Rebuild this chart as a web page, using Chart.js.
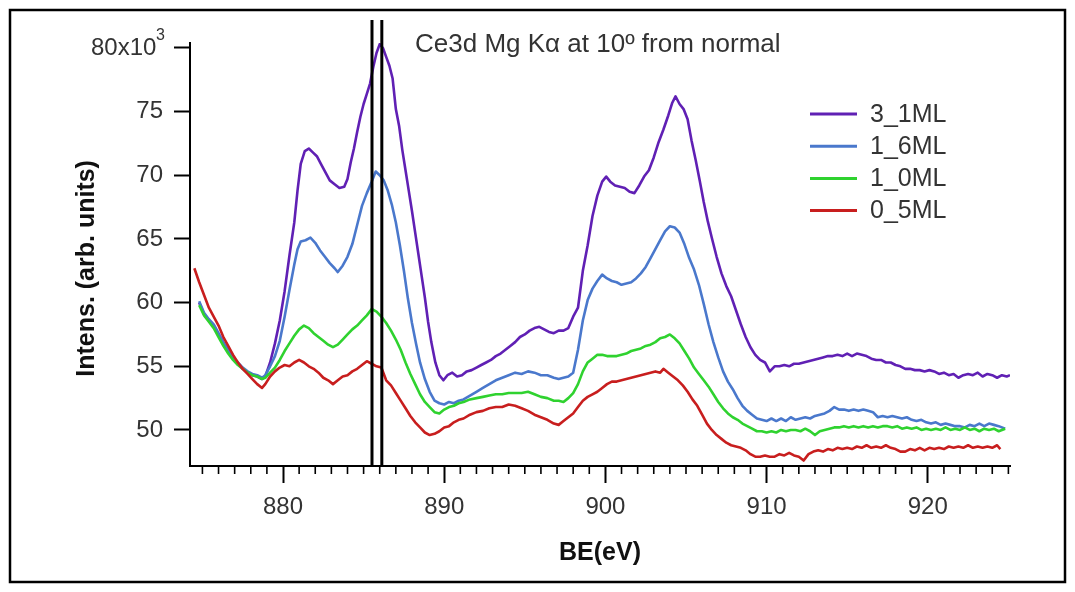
<!DOCTYPE html>
<html>
<head>
<meta charset="utf-8">
<title>Ce3d Mg Kα at 10º from normal</title>
<script src="https://cdn.jsdelivr.net/npm/chart.js@4.4.1/dist/chart.umd.min.js"></script>
<style>
  html, body { margin: 0; padding: 0; background: #fff; }
  canvas { display: block; }
</style>
</head>
<body>
<canvas id="spectrum" width="1075" height="592"></canvas>
<script>
const FONT = '"Liberation Sans", Arial, Helvetica, sans-serif';

// Series names as shown in the legend, top to bottom
const seriesNames = ['3_1ML', '1_6ML', '1_0ML', '0_5ML'];
const seriesColors = ['#6020b4', '#4a78cc', '#2fd22f', '#c81e1e'];

// Ce3d spectra: [binding energy (eV), intensity (x10^3 counts)]
const curve_3_1ML = [
  [874.8,60.0],[875.1,59.1],[875.4,58.6],[875.7,58.2],[876.0,57.5],[876.3,56.8],[876.6,56.2],[876.9,55.6],
  [877.2,55.2],[877.5,54.8],[877.8,54.5],[878.1,54.3],[878.4,54.2],[878.7,54.0],[878.9,54.2],[879.2,55.3],
  [879.5,56.8],[879.8,58.6],[880.1,60.9],[880.4,63.7],[880.7,66.3],[880.9,68.8],[881.1,70.9],[881.35,71.9],
  [881.6,72.1],[881.85,71.8],[882.1,71.5],[882.35,70.9],[882.6,70.3],[882.9,69.6],[883.2,69.3],[883.5,69.0],
  [883.8,69.1],[884.0,69.7],[884.2,71.0],[884.4,72.1],[884.6,73.4],[884.8,74.6],[885.0,75.6],[885.2,76.4],
  [885.4,77.2],[885.6,78.5],[885.8,79.6],[886.0,80.3],[886.2,80.0],[886.4,79.3],[886.6,78.6],[886.8,77.6],
  [887.0,75.2],[887.2,73.9],[887.4,72.0],[887.6,70.4],[887.8,68.8],[888.0,67.2],[888.2,65.5],[888.4,63.8],
  [888.6,62.1],[888.8,60.4],[889.0,58.5],[889.2,56.9],[889.45,55.3],[889.7,54.3],[889.95,53.9],[890.2,54.3],
  [890.5,54.5],[890.8,54.2],[891.1,54.3],[891.4,54.6],[891.7,54.7],[892.0,54.9],[892.3,55.1],[892.6,55.3],
  [892.9,55.5],[893.2,55.8],[893.5,56.0],[893.8,56.3],[894.1,56.6],[894.4,56.9],[894.7,57.3],[895.0,57.5],
  [895.3,57.8],[895.6,58.0],[895.9,58.1],[896.2,57.9],[896.5,57.7],[896.8,57.6],[897.1,57.8],[897.4,57.8],
  [897.7,58.0],[898.0,58.9],[898.3,59.6],[898.6,62.5],[898.9,64.5],[899.2,66.8],[899.5,68.4],[899.8,69.5],
  [900.05,69.9],[900.3,69.5],[900.6,69.2],[900.9,69.1],[901.2,69.0],[901.5,68.7],[901.8,68.6],[902.1,69.2],
  [902.4,69.9],[902.7,70.4],[903.0,71.4],[903.3,72.6],[903.6,73.6],[903.9,74.7],[904.15,75.7],[904.35,76.2],
  [904.6,75.6],[904.85,75.2],[905.1,74.4],[905.35,72.7],[905.6,71.2],[905.85,69.6],[906.1,67.9],[906.35,66.4],
  [906.6,65.1],[906.9,63.6],[907.2,62.3],[907.5,61.3],[907.8,60.5],[908.1,59.4],[908.4,58.3],[908.7,57.3],
  [909.0,56.5],[909.3,55.9],[909.6,55.5],[909.9,55.3],[910.2,54.6],[910.5,55.0],[910.8,55.0],[911.1,55.1],
  [911.4,55.0],[911.7,55.2],[912.0,55.2],[912.3,55.3],[912.6,55.4],[912.9,55.5],[913.2,55.6],[913.5,55.7],
  [913.8,55.8],[914.1,55.8],[914.4,55.9],[914.7,55.8],[915.0,56.0],[915.3,55.8],[915.6,56.0],[915.9,55.9],
  [916.2,55.8],[916.5,55.6],[916.8,55.5],[917.1,55.5],[917.4,55.3],[917.7,55.3],[918.0,55.1],[918.3,55.0],
  [918.6,54.8],[918.9,54.8],[919.2,54.7],[919.5,54.7],[919.8,54.6],[920.1,54.7],[920.4,54.6],[920.7,54.4],
  [921.0,54.5],[921.3,54.3],[921.6,54.4],[921.9,54.1],[922.2,54.3],[922.5,54.4],[922.8,54.3],[923.1,54.5],
  [923.4,54.2],[923.7,54.4],[924.0,54.3],[924.3,54.1],[924.6,54.3],[924.9,54.2],[925.1,54.3]
];

const curve_1_6ML = [
  [874.8,60.1],[875.1,59.2],[875.4,58.7],[875.7,58.3],[876.0,57.6],[876.3,56.9],[876.6,56.3],[876.9,55.7],
  [877.2,55.3],[877.5,54.9],[877.8,54.6],[878.1,54.4],[878.4,54.3],[878.7,54.1],[878.9,54.3],[879.2,55.0],
  [879.5,55.8],[879.8,57.0],[880.1,58.9],[880.4,61.0],[880.7,63.0],[880.9,64.2],[881.1,64.8],[881.4,64.9],
  [881.7,65.1],[882.0,64.7],[882.3,64.1],[882.6,63.6],[882.9,63.1],[883.2,62.7],[883.4,62.4],[883.7,62.9],
  [884.0,63.6],[884.3,64.6],[884.6,66.1],[884.9,67.6],[885.2,68.6],[885.5,69.5],[885.75,70.3],[886.0,70.0],
  [886.25,69.6],[886.5,68.8],[886.75,67.7],[887.0,66.3],[887.25,64.5],[887.5,62.5],[887.75,60.3],[888.0,58.4],
  [888.25,56.8],[888.5,55.3],[888.8,54.0],[889.1,53.0],[889.4,52.3],[889.7,52.1],[890.0,52.0],[890.3,52.2],
  [890.6,52.1],[890.9,52.3],[891.2,52.4],[891.6,52.7],[892.0,53.0],[892.4,53.3],[892.8,53.6],[893.2,53.9],
  [893.6,54.1],[894.0,54.3],[894.4,54.5],[894.8,54.4],[895.2,54.6],[895.6,54.5],[896.0,54.3],[896.4,54.3],
  [896.8,54.1],[897.1,54.0],[897.4,54.1],[897.7,54.2],[898.0,54.5],[898.3,56.3],[898.6,58.6],[898.9,60.2],
  [899.2,61.1],[899.5,61.7],[899.8,62.2],[900.1,61.9],[900.4,61.7],[900.7,61.6],[901.0,61.4],[901.3,61.5],
  [901.6,61.6],[901.9,61.9],[902.2,62.3],[902.5,62.8],[902.8,63.5],[903.1,64.2],[903.4,64.9],[903.7,65.6],
  [904.0,66.0],[904.3,65.9],[904.6,65.5],[904.9,64.6],[905.2,63.5],[905.5,62.6],[905.8,61.4],[906.1,59.9],
  [906.4,58.3],[906.7,56.9],[907.0,55.7],[907.3,54.6],[907.6,53.8],[907.9,53.2],[908.2,52.5],[908.5,51.9],
  [908.8,51.5],[909.1,51.2],[909.4,50.9],[909.7,50.8],[910.0,50.7],[910.3,50.9],[910.6,50.7],[910.9,50.9],
  [911.2,50.7],[911.5,51.0],[911.8,50.8],[912.1,50.9],[912.4,51.0],[912.7,50.9],[913.0,51.1],[913.3,51.2],
  [913.6,51.3],[913.9,51.5],[914.2,51.8],[914.5,51.6],[914.8,51.6],[915.1,51.5],[915.4,51.6],[915.7,51.5],
  [916.0,51.6],[916.3,51.5],[916.6,51.4],[916.9,51.0],[917.2,51.1],[917.5,51.0],[917.8,51.1],[918.1,51.0],
  [918.4,50.9],[918.7,51.0],[919.0,50.8],[919.3,50.7],[919.6,50.8],[919.9,50.6],[920.2,50.5],[920.5,50.6],
  [920.8,50.4],[921.1,50.5],[921.4,50.4],[921.7,50.3],[922.0,50.3],[922.3,50.2],[922.6,50.4],[922.9,50.3],
  [923.2,50.5],[923.5,50.3],[923.8,50.5],[924.1,50.4],[924.4,50.3],[924.8,50.1]
];

const curve_1_0ML = [
  [874.8,59.8],[875.1,59.0],[875.4,58.5],[875.7,58.0],[876.0,57.3],[876.3,56.6],[876.6,56.0],[876.9,55.5],
  [877.2,55.1],[877.5,54.8],[877.8,54.5],[878.1,54.3],[878.4,54.2],[878.7,54.0],[878.9,54.1],[879.2,54.5],
  [879.5,54.9],[879.8,55.5],[880.1,56.2],[880.4,56.8],[880.7,57.4],[881.0,57.9],[881.3,58.2],[881.6,58.0],
  [881.9,57.6],[882.2,57.3],[882.5,57.0],[882.8,56.7],[883.1,56.5],[883.4,56.7],[883.7,57.1],[884.0,57.5],
  [884.3,57.9],[884.6,58.2],[884.9,58.6],[885.2,59.0],[885.5,59.5],[885.8,59.3],[886.1,58.9],[886.4,58.4],
  [886.7,57.8],[887.0,57.1],[887.3,56.3],[887.6,55.3],[887.9,54.4],[888.2,53.6],[888.5,52.8],[888.8,52.2],
  [889.1,51.8],[889.4,51.4],[889.7,51.3],[890.0,51.6],[890.3,51.8],[890.6,51.9],[890.9,52.1],[891.2,52.2],
  [891.6,52.4],[892.0,52.5],[892.4,52.6],[892.8,52.7],[893.2,52.8],[893.6,52.8],[894.0,52.9],[894.4,52.9],
  [894.8,52.9],[895.2,53.0],[895.6,52.8],[896.0,52.6],[896.4,52.5],[896.8,52.3],[897.1,52.3],[897.4,52.2],
  [897.7,52.5],[898.0,52.9],[898.3,53.6],[898.6,54.6],[898.9,55.3],[899.2,55.6],[899.5,55.9],[899.8,55.9],
  [900.1,55.8],[900.4,55.8],[900.7,55.8],[901.0,55.9],[901.3,56.0],[901.6,56.2],[901.9,56.3],[902.2,56.4],
  [902.5,56.6],[902.8,56.7],[903.1,56.9],[903.4,57.2],[903.7,57.3],[904.0,57.5],[904.3,57.2],[904.6,56.8],
  [904.9,56.2],[905.2,55.6],[905.5,54.9],[905.8,54.4],[906.1,53.9],[906.4,53.4],[906.7,52.8],[907.0,52.2],
  [907.3,51.7],[907.6,51.3],[907.9,51.0],[908.2,50.8],[908.5,50.5],[908.8,50.3],[909.1,50.1],[909.4,49.9],
  [909.7,49.9],[910.0,49.8],[910.3,49.9],[910.6,49.8],[910.9,50.0],[911.2,49.9],[911.5,50.0],[911.8,50.0],
  [912.1,49.9],[912.4,50.1],[912.7,49.9],[913.0,49.6],[913.3,49.9],[913.6,50.0],[913.9,50.1],[914.2,50.2],
  [914.5,50.2],[914.8,50.3],[915.1,50.2],[915.4,50.3],[915.7,50.2],[916.0,50.3],[916.3,50.2],[916.6,50.3],
  [916.9,50.2],[917.2,50.3],[917.5,50.3],[917.8,50.2],[918.1,50.3],[918.4,50.1],[918.7,50.2],[919.0,50.1],
  [919.3,50.2],[919.6,50.0],[919.9,50.1],[920.2,50.0],[920.5,50.1],[920.8,50.0],[921.1,50.2],[921.4,50.0],
  [921.7,50.1],[922.0,50.0],[922.3,50.2],[922.6,50.0],[922.9,50.1],[923.2,49.9],[923.5,50.1],[923.8,50.0],
  [924.1,50.1],[924.4,49.9],[924.8,50.1]
];

const curve_0_5ML = [
  [874.5,62.7],[874.8,61.6],[875.1,60.6],[875.4,59.6],[875.7,58.9],[876.0,58.2],[876.3,57.3],[876.6,56.6],
  [876.9,55.9],[877.2,55.3],[877.5,54.8],[877.8,54.4],[878.1,54.0],[878.4,53.6],[878.7,53.3],[878.9,53.6],
  [879.2,54.2],[879.5,54.6],[879.8,54.9],[880.1,55.1],[880.4,55.0],[880.7,55.3],[881.0,55.5],[881.3,55.3],
  [881.6,55.0],[881.9,54.8],[882.2,54.5],[882.5,54.1],[882.8,53.9],[883.1,53.6],[883.4,53.9],[883.7,54.2],
  [884.0,54.3],[884.3,54.6],[884.6,54.8],[884.9,55.1],[885.2,55.4],[885.5,55.2],[885.8,55.0],[886.1,54.9],
  [886.4,53.9],[886.7,53.5],[887.0,52.9],[887.3,52.3],[887.6,51.7],[887.9,51.1],[888.2,50.6],[888.5,50.2],
  [888.8,49.8],[889.1,49.6],[889.4,49.7],[889.7,49.9],[890.0,50.2],[890.3,50.3],[890.6,50.6],[890.9,50.8],
  [891.2,50.9],[891.6,51.2],[892.0,51.4],[892.4,51.5],[892.8,51.7],[893.2,51.8],[893.6,51.8],[894.0,52.0],
  [894.4,51.9],[894.8,51.7],[895.2,51.5],[895.6,51.2],[896.0,51.0],[896.4,50.8],[896.8,50.5],[897.1,50.4],
  [897.4,50.7],[897.7,51.0],[898.0,51.3],[898.3,51.8],[898.6,52.3],[898.9,52.6],[899.2,52.8],[899.5,53.0],
  [899.8,53.3],[900.1,53.6],[900.4,53.8],[900.7,53.8],[901.0,53.9],[901.3,54.0],[901.6,54.1],[901.9,54.2],
  [902.2,54.3],[902.5,54.4],[902.8,54.5],[903.1,54.6],[903.4,54.5],[903.6,54.8],[903.9,54.5],[904.2,54.2],
  [904.5,53.9],[904.8,53.5],[905.1,53.0],[905.4,52.4],[905.7,51.9],[906.0,51.2],[906.3,50.5],[906.6,50.0],
  [906.9,49.6],[907.2,49.3],[907.5,49.0],[907.8,48.8],[908.1,48.7],[908.4,48.6],[908.7,48.4],[909.0,48.1],
  [909.3,47.9],[909.6,47.9],[909.9,48.0],[910.2,47.9],[910.5,47.9],[910.8,48.1],[911.1,48.0],[911.4,48.2],
  [911.7,48.0],[912.0,47.9],[912.3,47.6],[912.6,48.1],[912.9,48.3],[913.2,48.4],[913.5,48.3],[913.8,48.5],
  [914.1,48.4],[914.4,48.6],[914.7,48.5],[915.0,48.6],[915.3,48.5],[915.6,48.7],[915.9,48.6],[916.2,48.8],
  [916.5,48.6],[916.8,48.7],[917.1,48.6],[917.4,48.8],[917.7,48.6],[918.0,48.5],[918.3,48.3],[918.6,48.3],
  [918.9,48.5],[919.2,48.4],[919.5,48.6],[919.8,48.4],[920.1,48.6],[920.4,48.5],[920.7,48.6],[921.0,48.5],
  [921.3,48.7],[921.6,48.6],[921.9,48.7],[922.2,48.6],[922.5,48.8],[922.8,48.6],[923.1,48.7],[923.4,48.6],
  [923.7,48.7],[924.0,48.6],[924.3,48.8],[924.5,48.5]
];

// Reference binding energies marked by vertical lines (eV)
const markerEnergies = [885.52, 886.13];

// Axis ranges and ticks
const beRange = [874.23, 925.1];
const intensityRange = [47.17, 80.39];
const markerTop = 82.2;            // marker lines run above the top of the intensity axis
const beMajorStep = 10;
const intensityStep = 5;

const plotTitle = 'Ce3d Mg Kα at 10º from normal';

const curves = [curve_3_1ML, curve_1_6ML, curve_1_0ML, curve_0_5ML];

const datasets = curves.map((c, i) => ({
  label: seriesNames[i],
  data: c.map(([x, y]) => ({ x, y })),
  borderColor: seriesColors[i],
  borderWidth: 2.6,
  pointRadius: 0,
  fill: false,
  order: curves.length - i   // thinner coverages drawn on top
}));

markerEnergies.forEach(e => {
  datasets.push({
    label: 'marker ' + e,
    data: [{ x: e, y: intensityRange[0] }, { x: e, y: markerTop }],
    borderColor: '#000',
    borderWidth: 3,
    pointRadius: 0,
    fill: false,
    clip: false,
    order: 0
  });
});

// Title, legend, minor ticks, exponent and outer frame
const decorations = {
  id: 'decorations',
  afterDraw(chart) {
    const { ctx, chartArea, scales: { x, y } } = chart;
    ctx.save();

    // minor ticks every 1 eV
    ctx.strokeStyle = '#000';
    ctx.lineWidth = 1.6;
    for (let v = Math.ceil(x.min); v <= x.max; v++) {
      if (v % beMajorStep === 0) continue;
      const px = x.getPixelForValue(v);
      ctx.beginPath();
      ctx.moveTo(px, chartArea.bottom);
      ctx.lineTo(px, chartArea.bottom + 8);
      ctx.stroke();
    }

    // exponent of the top intensity label (80x10^3)
    const topTick = y.ticks[y.ticks.length - 1].value;
    ctx.fillStyle = '#333';
    ctx.font = '16px ' + FONT;
    ctx.textAlign = 'right';
    ctx.textBaseline = 'alphabetic';
    ctx.fillText('3', 165, y.getPixelForValue(topTick) - 8);

    // title
    ctx.font = '26px ' + FONT;
    ctx.textAlign = 'left';
    ctx.fillText(plotTitle, 415, 52);

    // legend
    ctx.font = '25px ' + FONT;
    ctx.textBaseline = 'middle';
    seriesNames.forEach((name, i) => {
      const rowY = 114 + i * 32.2;
      ctx.strokeStyle = seriesColors[i];
      ctx.lineWidth = 3;
      ctx.beginPath();
      ctx.moveTo(810, rowY);
      ctx.lineTo(857, rowY);
      ctx.stroke();
      ctx.fillStyle = '#333';
      ctx.fillText(name, 870, rowY + 1);
    });

    // outer frame
    ctx.strokeStyle = '#000';
    ctx.lineWidth = 2.5;
    ctx.strokeRect(10, 10, 1055, 572);
    ctx.restore();
  }
};

new Chart(document.getElementById('spectrum'), {
  type: 'line',
  data: { datasets },
  options: {
    responsive: false,
    animation: false,
    devicePixelRatio: 1,
    layout: { padding: { left: 0, top: 43, right: 65, bottom: 0 } },
    elements: { line: { tension: 0, borderJoinStyle: 'round' }, point: { radius: 0 } },
    plugins: {
      legend: { display: false },
      tooltip: { enabled: false },
      title: { display: false }
    },
    scales: {
      x: {
        type: 'linear',
        min: beRange[0],
        max: beRange[1],
        afterFit: s => { s.height = 126; },
        grid: { drawOnChartArea: false, drawTicks: true, tickLength: 17, tickColor: '#000', tickWidth: 2 },
        border: { display: true, color: '#000', width: 2 },
        ticks: {
          stepSize: beMajorStep,
          includeBounds: false,
          autoSkip: false,
          maxRotation: 0,
          padding: 10,
          color: '#333',
          font: { family: FONT, size: 24 },
          callback: v => String(Math.round(v))
        },
        title: {
          display: true,
          text: 'BE(eV)',
          color: '#111',
          font: { family: FONT, size: 25, weight: 'bold' },
          padding: { top: 0, bottom: 24 }
        }
      },
      y: {
        type: 'linear',
        min: intensityRange[0],
        max: intensityRange[1],
        afterFit: s => { s.width = 190; },
        grid: { drawOnChartArea: false, drawTicks: true, tickLength: 16, tickColor: '#000', tickWidth: 2 },
        border: { display: true, color: '#000', width: 2 },
        ticks: {
          stepSize: intensityStep,
          includeBounds: false,
          padding: 11,
          color: '#333',
          font: { family: FONT, size: 24 },
          callback: v => (Math.round(v) === 80 ? '80x10 ' : String(Math.round(v)))
        },
        title: {
          display: true,
          text: 'Intens. (arb. units)    ',
          color: '#111',
          font: { family: FONT, size: 25, weight: 'bold' },
          padding: { top: 72, bottom: 0 }
        }
      }
    }
  },
  plugins: [decorations]
});
</script>
</body>
</html>
